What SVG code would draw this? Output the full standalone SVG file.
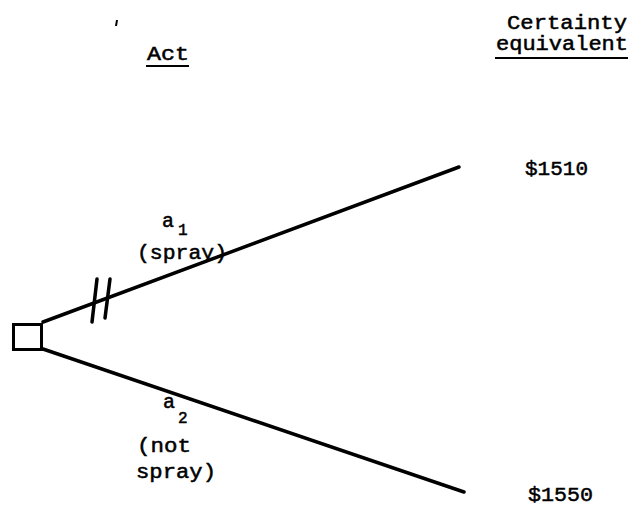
<svg xmlns="http://www.w3.org/2000/svg" width="633" height="507" viewBox="0 0 633 507">
<style>
  text { font-family: "Liberation Mono", "DejaVu Sans Mono", monospace; fill: #000; stroke: #000; stroke-width: 0.5; }
  .lbl { font-size: 20px; }
  .sub { font-size: 16px; }
  .val { font-size: 21px; }
  .edge { stroke: #000; stroke-width: 3.5; stroke-linecap: round; fill: none; }
  .ul { stroke: #000; stroke-width: 2; }
</style>
<rect width="633" height="507" fill="#fff"/>
<g id="headers">
  <path d="M116,20 L118,20 L117,26 L115,26 Z" fill="#000"/>
  <text class="lbl" x="147" y="60" textLength="42" lengthAdjust="spacingAndGlyphs">Act</text>
  <line class="ul" x1="146" y1="66" x2="189" y2="66"/>
  <text class="lbl" x="507" y="29" textLength="120" lengthAdjust="spacingAndGlyphs">Certainty</text>
  <text class="lbl" x="496" y="50" textLength="132" lengthAdjust="spacingAndGlyphs">equivalent</text>
  <line class="ul" x1="495" y1="58" x2="628" y2="58"/>
</g>
<g id="connectors">
  <line class="edge" x1="43" y1="322" x2="459" y2="167"/>
  <line class="edge" x1="43" y1="349" x2="464" y2="492"/>
  <line class="edge" x1="97" y1="279" x2="92" y2="322" stroke-width="3"/>
  <line class="edge" x1="110" y1="279" x2="105" y2="318" stroke-width="3"/>
  <g id="label-a1">
    <text class="lbl" x="162" y="227">a</text>
    <text class="sub" x="178" y="235">1</text>
    <text class="lbl" x="137" y="259" textLength="90" lengthAdjust="spacingAndGlyphs">(spray)</text>
  </g>
  <g id="label-a2">
    <text class="lbl" x="163" y="408">a</text>
    <text class="sub" x="178" y="423">2</text>
    <text class="lbl" x="137" y="452" textLength="54" lengthAdjust="spacingAndGlyphs">(not</text>
    <text class="lbl" x="136" y="478" textLength="80" lengthAdjust="spacingAndGlyphs">spray)</text>
  </g>
</g>
<g id="decision-node">
  <rect x="13.5" y="324.5" width="28" height="25" fill="#fff" stroke="#000" stroke-width="3"/>
</g>
<g id="outcome-a1">
  <text class="val" x="525" y="175" textLength="63" lengthAdjust="spacingAndGlyphs">$1510</text>
</g>
<g id="outcome-a2">
  <text class="val" x="528" y="501" textLength="65" lengthAdjust="spacingAndGlyphs">$1550</text>
</g>
</svg>
